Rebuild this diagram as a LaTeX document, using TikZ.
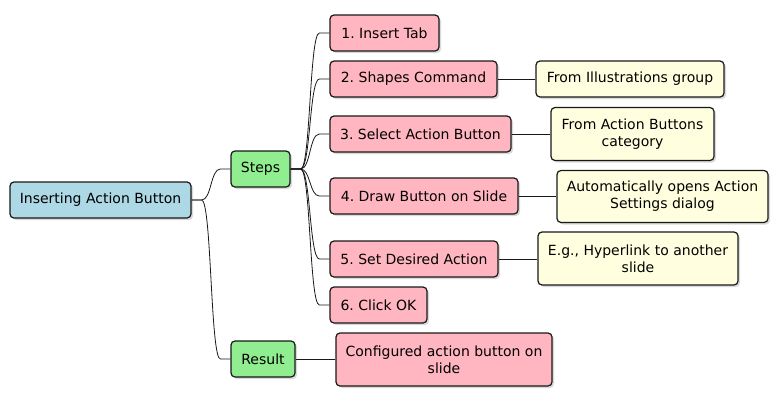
\documentclass[tikz,border=0pt]{standalone}
\usepackage{fontspec}
\setmainfont{DejaVu Sans}
\usetikzlibrary{calc,shadows}
\definecolor{bordc}{HTML}{181818}
\definecolor{rootc}{HTML}{ADD8E6}
\definecolor{greenc}{HTML}{90EE90}
\definecolor{pinkc}{HTML}{FFB6C1}
\definecolor{yelc}{HTML}{FFFFE0}
\tikzset{
  box/.style={draw=bordc, line width=1.2pt, rounded corners=4pt, align=center,
    inner sep=0pt, font=\fontsize{14}{17}\selectfont\frenchspacing, text=black,
    drop shadow={shadow xshift=2pt, shadow yshift=-2pt, opacity=0.15, fill=black}},
  rootbox/.style={box, fill=rootc},
  greenbox/.style={box, fill=greenc},
  pinkbox/.style={box, fill=pinkc},
  yelbox/.style={box, fill=yelc},
  conn/.style={draw=bordc, line width=0.8pt},
}
\newcommand\mmlink[2]{\draw[conn] (#1.east) -- ++(10,0) .. controls ($(#1.east)+(20,0)$) and ($(#2.west)+(-20,0)$) .. ($(#2.west)+(-10,0)$) -- (#2.west);}
\newcommand\mmstraight[2]{\draw[conn] (#1.east) -- (#1.east -| #2.west);}
\begin{document}
\begin{tikzpicture}[x=1pt,y=-1pt]
\useasboundingbox (0,0) rectangle (779,402);
\node[rootbox, minimum width=181pt, minimum height=36pt] (root) at (100.5,200) {Inserting Action Button};
\node[greenbox, minimum width=59pt, minimum height=36pt] (steps) at (260.5,169) {Steps};
\node[greenbox, minimum width=64pt, minimum height=36pt] (result) at (263,359) {Result};
\node[pinkbox, minimum width=109pt, minimum height=36pt] (s1) at (384.5,33) {1. Insert Tab};
\node[pinkbox, minimum width=167pt, minimum height=36pt] (s2) at (413.5,79) {2. Shapes Command};
\node[pinkbox, minimum width=181pt, minimum height=36pt] (s3) at (420.5,134) {3. Select Action Button};
\node[pinkbox, minimum width=188pt, minimum height=36pt] (s4) at (424,196) {4. Draw Button on Slide};
\node[pinkbox, minimum width=168pt, minimum height=36pt] (s5) at (414,259) {5. Set Desired Action};
\node[pinkbox, minimum width=97pt, minimum height=36pt] (s6) at (378.5,305) {6. Click OK};
\node[pinkbox, minimum width=216pt, minimum height=53pt] (res1) at (444,359.5) {Configured action button on\\slide};
\node[yelbox, minimum width=188pt, minimum height=36pt] (y2) at (630,79) {From Illustrations group};
\node[yelbox, minimum width=163pt, minimum height=53pt] (y3) at (632.5,134) {From Action Buttons\\category};
\node[yelbox, minimum width=211pt, minimum height=52pt] (y4) at (662.5,196.5) {Automatically opens Action\\Settings dialog};
\node[yelbox, minimum width=200pt, minimum height=53pt] (y5) at (638,258.5) {E.g., Hyperlink to another\\slide};
\mmlink{root}{steps}
\mmlink{root}{result}
\mmlink{steps}{s1}
\mmlink{steps}{s2}
\mmlink{steps}{s3}
\mmlink{steps}{s4}
\mmlink{steps}{s5}
\mmlink{steps}{s6}
\mmstraight{result}{res1}
\mmstraight{s2}{y2}
\mmstraight{s3}{y3}
\mmstraight{s4}{y4}
\mmstraight{s5}{y5}
\end{tikzpicture}
\end{document}
